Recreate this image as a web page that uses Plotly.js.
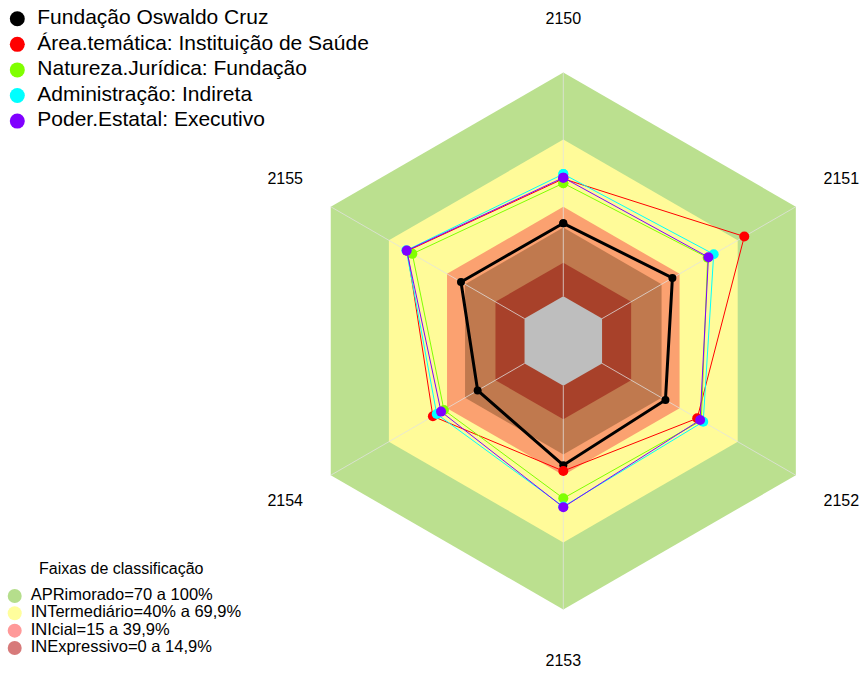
<!DOCTYPE html>
<html><head><meta charset="utf-8">
<script src="https://cdn.plot.ly/plotly-3.0.1.min.js"></script>
<style>html,body{margin:0;padding:0;overflow:hidden;background:#fff}#chart{width:900px;height:673px}</style>
</head><body><div id="chart"></div>
<script>
// ---- data ----
const categories = ['2150', '2151', '2152', '2153', '2154', '2155'];
const seriesNames = ['Fundação Oswaldo Cruz', 'Área.temática: Instituição de Saúde', 'Natureza.Jurídica: Fundação', 'Administração: Indireta', 'Poder.Estatal: Executivo'];
const fiocruz   = [32.6, 36.3, 32.7, 35.5, 24.2, 32.8];
const saude     = [52.5, 73.4, 49.1, 38.1, 47.3, 60.5];
const fundacao  = [50.5, 54.5, 51.2, 50.3, 41.6, 57.9];
const indireta  = [54.6, 57.6, 52.2, 54.0, 45.3, 61.0];
const executivo = [53.0, 54.9, 50.6, 54.3, 43.1, 60.8];
const seriesColors = ['#000000', '#ff0000', '#80ff00', '#00ffff', '#8000ff'];

const bandLevels = [100, 70, 40, 30.7, 15, 0];
const bandColors = ['#bbe08f', '#fffb99', '#fba170', '#c0794e', '#a8412a', '#bebebe'];

const classTitle = 'Faixas de classificação';
const classNames = ['APRimorado=70 a 100%', 'INTermediário=40% a 69,9%', 'INIcial=15 a 39,9%', 'INExpressivo=0 a 14,9%'];
const classColors = ['#b5de8c', '#fffe9c', '#ff9999', '#d77a7a'];

// ---- build ----
const FONT = 'Liberation Sans, Arial, sans-serif';
const RMIN = -20, RMAX = 126, LABEL_R = 123.5;
const close = a => a.concat([a[0]]);
const thetaClosed = close(categories);
const traces = [];

bandLevels.forEach((lv, i) => {
  traces.push({
    type: 'scatterpolar', r: close(categories.map(() => lv)), theta: thetaClosed,
    mode: 'lines', fill: 'toself', fillcolor: bandColors[i],
    line: {width: 0, color: bandColors[i]}, hoverinfo: 'skip', showlegend: false
  });
});

const spokeR = [], spokeT = [];
categories.forEach(c => { spokeR.push(0, 100, null); spokeT.push(c, c, null); });
traces.push({
  type: 'scatterpolar', r: spokeR, theta: spokeT, mode: 'lines',
  line: {color: 'rgba(225,225,225,0.75)', width: 1}, connectgaps: false,
  hoverinfo: 'skip', showlegend: false
});

const seriesValues = [fiocruz, saude, fundacao, indireta, executivo];
seriesValues.forEach((vals, i) => {
  const main = i === 0;
  traces.push({
    type: 'scatterpolar', r: close(vals), theta: thetaClosed, mode: 'lines+markers',
    name: seriesNames[i],
    line: {color: seriesColors[i], width: main ? 3 : 1},
    marker: {color: seriesColors[i], size: main ? 8 : 10},
    showlegend: false
  });
});

traces.push({
  type: 'scatterpolar', r: categories.map(() => LABEL_R), theta: categories,
  mode: 'text', text: categories, textposition: 'middle center',
  textfont: {family: FONT, size: 16, color: '#000'},
  cliponaxis: false, hoverinfo: 'skip', showlegend: false
});

// key 1 (series)
traces.push({
  type: 'scatter', xaxis: 'x', yaxis: 'y',
  x: seriesNames.map(() => 0), y: seriesNames.map((_, i) => i),
  mode: 'markers', marker: {color: seriesColors, size: 15},
  cliponaxis: false, hoverinfo: 'skip', showlegend: false
});
traces.push({
  type: 'scatter', xaxis: 'x', yaxis: 'y',
  x: seriesNames.map(() => 1), y: seriesNames.map((_, i) => i),
  mode: 'text', text: seriesNames, textposition: 'middle right',
  textfont: {family: FONT, size: 21, color: '#000'},
  cliponaxis: false, hoverinfo: 'skip', showlegend: false
});
// key 2 (classification bands)
traces.push({
  type: 'scatter', xaxis: 'x2', yaxis: 'y2',
  x: classNames.map(() => 0), y: classNames.map((_, i) => i),
  mode: 'markers', marker: {color: classColors, size: 14},
  cliponaxis: false, hoverinfo: 'skip', showlegend: false
});
traces.push({
  type: 'scatter', xaxis: 'x2', yaxis: 'y2',
  x: classNames.map(() => 1), y: classNames.map((_, i) => i),
  mode: 'text', text: classNames, textposition: 'middle right',
  textfont: {family: FONT, size: 16.5, color: '#000'},
  cliponaxis: false, hoverinfo: 'skip', showlegend: false
});

const hidden = {visible: false, fixedrange: true};
const layout = {
  width: 900, height: 673, autosize: false,
  margin: {l: 0, r: 0, t: 0, b: 0, pad: 0},
  paper_bgcolor: '#ffffff', plot_bgcolor: 'rgba(0,0,0,0)',
  font: {family: FONT, color: '#000'},
  showlegend: false,
  polar: {
    domain: {x: [0.26289, 0.98889], y: [0.007875, 0.97875]},
    bgcolor: 'rgba(0,0,0,0)', gridshape: 'linear',
    radialaxis: {range: [RMIN, RMAX], visible: false},
    angularaxis: {type: 'category', categoryorder: 'array', categoryarray: categories,
                  direction: 'clockwise', rotation: 90, visible: false}
  },
  xaxis: Object.assign({domain: [0, 0.45], range: [-0.865, 19.385], anchor: 'y'}, hidden),
  yaxis: Object.assign({domain: [0.8010, 0.9912], range: [4.5, -0.5], anchor: 'x'}, hidden),
  xaxis2: Object.assign({domain: [0, 0.3], range: [-0.919, 15.956], anchor: 'y2'}, hidden),
  yaxis2: Object.assign({domain: [0.02422, 0.12734], range: [3.5, -0.5], anchor: 'x2'}, hidden),
  annotations: [{
    text: classTitle, xref: 'paper', yref: 'paper', x: 0.1352, y: 0.1556,
    xanchor: 'center', yanchor: 'middle', showarrow: false,
    font: {family: FONT, size: 16, color: '#000'}
  }]
};

Plotly.newPlot('chart', traces, layout, {displayModeBar: false, staticPlot: true});
</script>
</body></html>
